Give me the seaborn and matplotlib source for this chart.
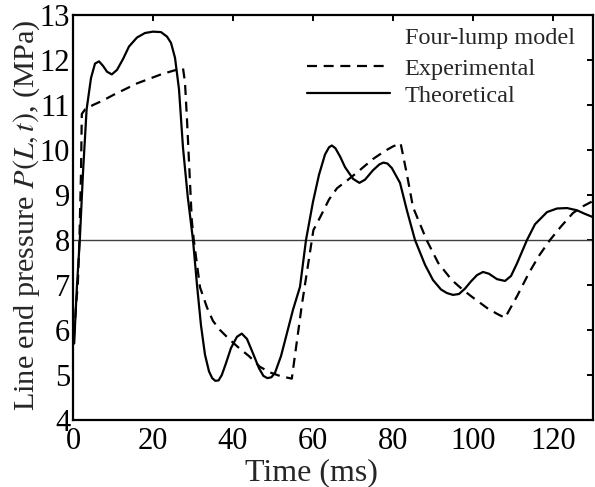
import pandas as pd
import matplotlib
matplotlib.use('Agg')
import matplotlib.pyplot as plt
import seaborn as sns

# Dữ liệu (thời gian ms, áp suất MPa)
t_theo = [0.3, 0.5, 1.0, 1.7, 2.5, 3.4, 4.5, 5.5, 6.5, 7.5, 8.5, 9.7, 11, 12.5,
          14, 16, 18, 20, 22, 23.5, 24.5, 25.5, 26.5, 27.5, 28.7, 30, 31,
          32, 33, 34, 34.8, 35.6, 36.4, 37.2, 38.2, 39.5, 41, 42.2, 43.5, 45,
          46.5, 47.6, 48.6, 49.6, 50.5, 52, 53.4, 55, 56.75, 58.25, 60, 61.5,
          63, 64, 64.7, 65.6, 66.8, 68, 70, 71.6, 73, 75, 76.6, 77.6, 78.6,
          79.7, 81.75, 83.5, 85.5, 88, 90, 92, 93.5, 95, 96.5, 98, 99.5,
          101, 102.5, 104, 106, 108, 109.5, 111, 113.5, 115.5, 118.5, 121,
          123.5, 126, 128, 130.5]
p_theo = [5.7, 6.1, 7.0, 8.0, 9.5, 10.9, 11.6, 11.92, 11.97, 11.87, 11.74,
          11.68, 11.78, 12.02, 12.3, 12.5, 12.6, 12.63, 12.62, 12.52, 12.38,
          12.05, 11.35, 10.05, 8.95, 8.0, 7.0, 6.1, 5.45, 5.08, 4.93, 4.87,
          4.88, 5.0, 5.25, 5.6, 5.85, 5.92, 5.8, 5.48, 5.15, 4.98, 4.93,
          4.95, 5.05, 5.42, 5.9, 6.45, 6.96, 8.0, 8.85, 9.45, 9.9, 10.06,
          10.1, 10.04, 9.85, 9.62, 9.36, 9.27, 9.34, 9.55, 9.68, 9.72, 9.7,
          9.6, 9.27, 8.65, 8.0, 7.45, 7.11, 6.9, 6.82, 6.78, 6.8, 6.92,
          7.08, 7.22, 7.29, 7.25, 7.13, 7.09, 7.2, 7.48, 8.0, 8.35, 8.62,
          8.7, 8.71, 8.66, 8.58, 8.49]

t_exp = [0.3, 0.8, 1.2, 1.6, 2.0, 2.2, 3, 5, 7.5, 10, 13, 16, 19, 22, 25,
         27.5, 28.0, 28.5, 29.7, 30.2, 31.75, 33.5, 35, 36.75, 39, 41.5, 44,
         46.75, 49.5, 52, 54.7, 57.2, 60.1, 61.75, 64, 66, 68.5, 71, 73, 75,
         78, 80, 81.9, 83.5, 85, 88.4, 91.3, 94.7, 97.5, 100, 103.5, 106,
         108, 111, 114, 116.5, 119.25, 122, 125, 127.5, 130.5]
p_exp = [5.9, 6.6, 7.0, 8.0, 9.5, 10.8, 10.9, 11.0, 11.1, 11.22, 11.35,
         11.48, 11.58, 11.68, 11.76, 11.82, 11.5, 10.67, 8.44, 8.0, 6.95,
         6.5, 6.2, 6.0, 5.8, 5.6, 5.42, 5.18, 5.05, 4.97, 4.92, 6.55, 8.22,
         8.5, 8.9, 9.15, 9.32, 9.5, 9.65, 9.8, 9.98, 10.08, 10.15, 9.45,
         8.73, 8.0, 7.49, 7.11, 6.89, 6.72, 6.49, 6.36, 6.27, 6.75, 7.27,
         7.65, 8.0, 8.3, 8.6, 8.75, 8.89]

ref_level = 8.0
x_ticks = [0, 20, 40, 60, 80, 100, 120]
y_ticks = [4, 5, 6, 7, 8, 9, 10, 11, 12, 13]

df_theo = pd.DataFrame({'t': t_theo, 'p': p_theo})
df_exp = pd.DataFrame({'t': t_exp, 'p': p_exp})

sns.set_style('white')
plt.rcParams['font.family'] = ['Liberation Serif', 'DejaVu Serif']
plt.rcParams['mathtext.fontset'] = 'stix'

fig = plt.figure(figsize=(5.95, 4.87), dpi=100)
ax = fig.add_axes([73 / 595, 1 - 420 / 487, 520 / 595, 405 / 487])

ax.axhline(ref_level, color='0.25', lw=1.0, zorder=1)
sns.lineplot(data=df_exp, x='t', y='p', ax=ax, color='black', lw=1.6,
             label='Experimental', sort=False)
sns.lineplot(data=df_theo, x='t', y='p', ax=ax, color='black', lw=1.6,
             label='Theoretical', sort=False)
ax.lines[1].set_dashes([4.5, 3])
for ln in ax.lines[1:]:
    ln.set_solid_joinstyle('round')
    ln.set_dash_joinstyle('round')

ax.set_xlim(0, 130)
ax.set_ylim(4, 13)
ax.set_xticks(x_ticks)
ax.set_yticks(y_ticks)
ax.tick_params(direction='in', length=4, width=1.4, top=True, right=True,
               labelsize=22, colors='black')
ax.tick_params(axis='x', pad=5)
ax.tick_params(axis='y', pad=2)
for s in ax.spines.values():
    s.set_linewidth(1.6)
    s.set_color('black')

ax.set_xlabel('Time (ms)', fontsize=23)
ax.xaxis.set_label_coords((311 - 73) / 520, -0.095)
ax.set_ylabel(r'Line end pressure $P(L,t)$, (MPa)', fontsize=21.8)
ax.yaxis.set_label_coords(-0.06, 0.505)

# Chú giải: tiêu đề riêng, căn trái theo chữ
ax.legend(loc='upper left', bbox_to_anchor=(0.45, 0.895), frameon=False,
          fontsize=17.5, handlelength=3.4, handletextpad=0.6,
          labelspacing=0.22, borderaxespad=0, borderpad=0)
ax.text((405 - 73) / 520, 0.941, 'Four-lump model', transform=ax.transAxes,
        fontsize=17.5, ha='left', va='center')

fig.savefig('out.png', dpi=100)
